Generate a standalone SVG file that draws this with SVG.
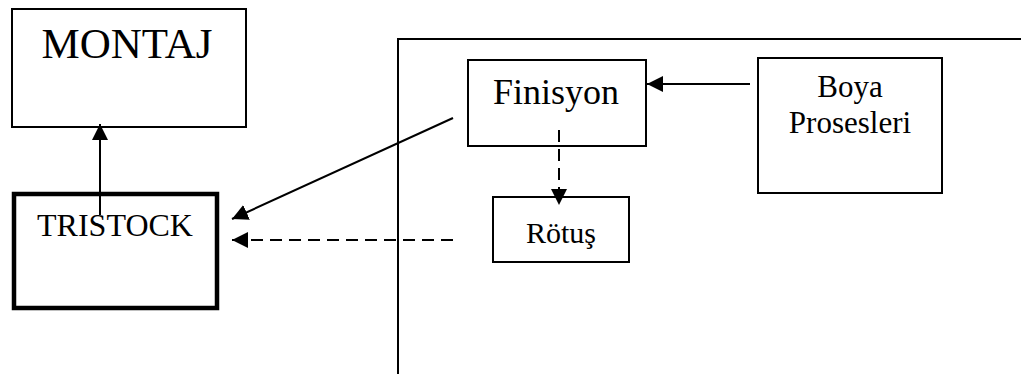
<svg xmlns="http://www.w3.org/2000/svg" width="1021" height="374" viewBox="0 0 1021 374">
  <style>
    .box { fill: #ffffff; stroke: #000000; stroke-width: 2; }
    .thick { fill: #ffffff; stroke: #000000; stroke-width: 4.5; }
    .frame { fill: none; stroke: #000000; stroke-width: 2; }
    .label { font-family: "Liberation Serif", "Times New Roman", serif; fill: #000000; text-anchor: middle; }
    .edge { fill: none; stroke: #000000; stroke-width: 2; }
    .dash { stroke-dasharray: 12 7; }
  </style>
  <defs>
    <marker id="arrow" viewBox="0 0 16 16" refX="16" refY="8" markerWidth="16" markerHeight="16" markerUnits="userSpaceOnUse" orient="auto">
      <path d="M0,0 L16,8 L0,16 Z" fill="#000000"/>
    </marker>
  </defs>

  <rect width="1021" height="374" fill="#ffffff"/>

  <!-- open frame around the paint shop area -->
  <path class="frame" d="M398,374 V39 H1021"/>

  <g id="montaj">
    <rect class="box" x="12" y="9" width="234" height="118"/>
    <text class="label" x="127" y="58" font-size="43">MONTAJ</text>
  </g>

  <g id="tristock">
    <rect class="thick" x="14" y="194" width="203" height="114"/>
    <text class="label" x="115" y="236" font-size="32">TRISTOCK</text>
  </g>

  <g id="finisyon">
    <rect class="box" x="468" y="60" width="178" height="86"/>
    <text class="label" x="556" y="104" font-size="36">Finisyon</text>
  </g>

  <g id="rotus">
    <rect class="box" x="493" y="197" width="136" height="65"/>
    <text class="label" x="561" y="243" font-size="30">Rötuş</text>
  </g>

  <g id="boya">
    <rect class="box" x="758" y="58" width="184" height="135"/>
    <text class="label" x="850" y="97" font-size="31">Boya</text>
    <text class="label" x="850" y="133" font-size="31">Prosesleri</text>
  </g>

  <g id="connectors">
    <line class="edge" x1="100" y1="215" x2="100" y2="124" marker-end="url(#arrow)"/>
    <line class="edge" x1="750" y1="84" x2="647" y2="84" marker-end="url(#arrow)"/>
    <line class="edge" x1="453" y1="118" x2="232" y2="219" marker-end="url(#arrow)"/>
    <line class="edge dash" x1="559" y1="130" x2="559" y2="205" marker-end="url(#arrow)"/>
    <line class="edge dash" x1="453" y1="240" x2="232" y2="240" marker-end="url(#arrow)"/>
  </g>
</svg>
